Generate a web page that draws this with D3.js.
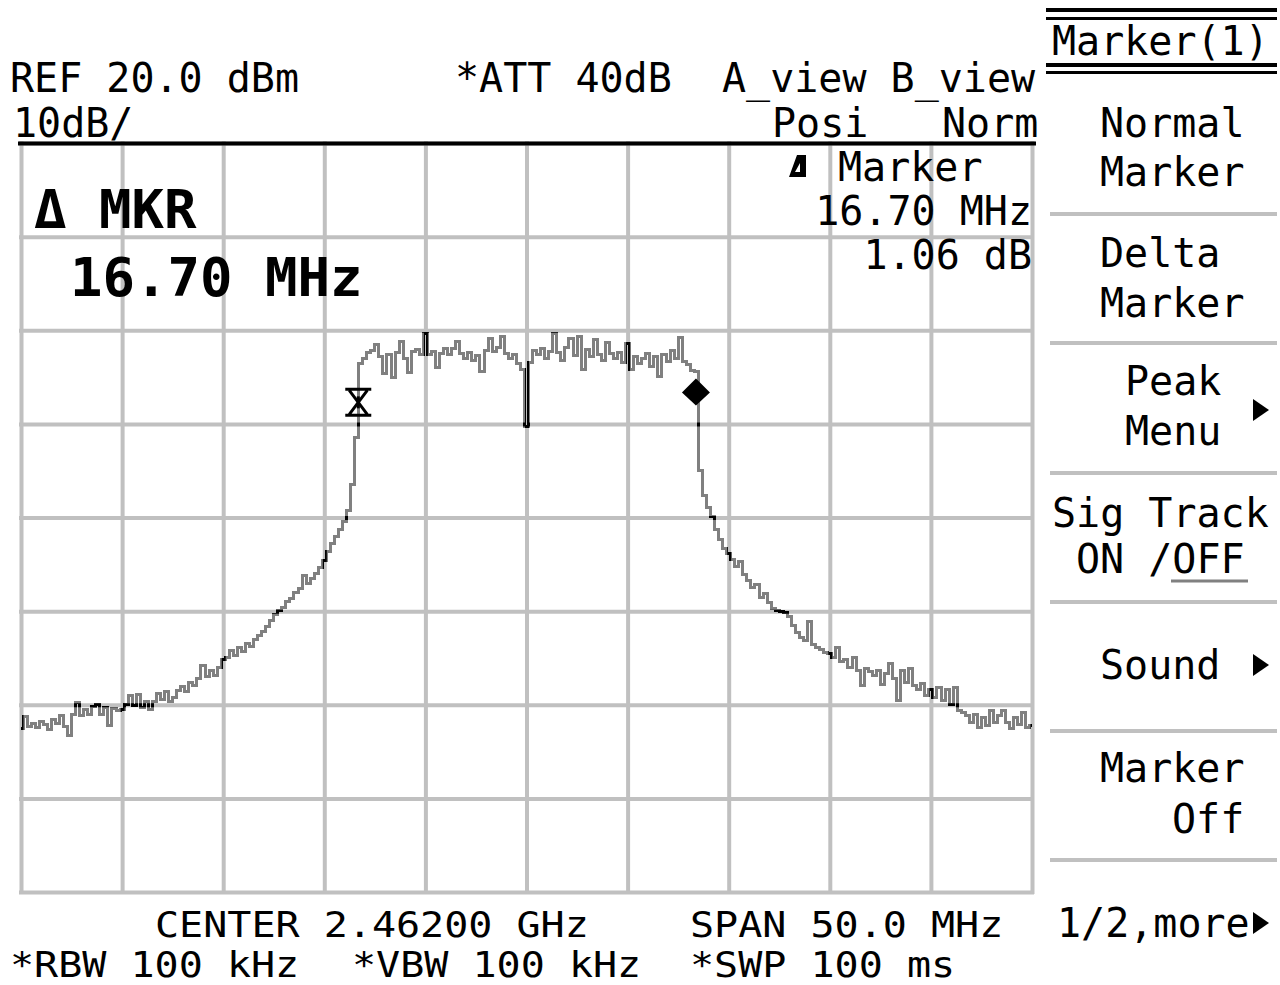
<!DOCTYPE html>
<html><head><meta charset="utf-8">
<script src="https://cdn.jsdelivr.net/npm/d3@7"></script>
<style>
html,body{margin:0;padding:0;background:#fff;}
svg{display:block;}
text{font-family:"DejaVu Sans Mono",monospace;fill:#000;}
</style></head><body>
<svg id="chart" width="1280" height="985"></svg>
<script>
// ---------------- data ----------------
const sweepStartMHz = -25;      // offset from centre frequency
const sweepStepMHz = 0.2;
const traceLevels_dBm = [
 -42.5,-41.3,-42.3,-42.0,-42.4,-41.8,-42.1,-42.6,-41.6,-42.0,
 -41.2,-42.3,-43.3,-41.0,-39.8,-41.2,-40.5,-41.0,-40.2,-40.0,
 -41.0,-40.3,-42.2,-40.4,-40.6,-40.5,-40.0,-39.0,-40.1,-38.9,
 -40.3,-39.6,-40.5,-39.7,-38.8,-39.4,-38.6,-39.6,-39.2,-38.5,
 -38.0,-38.6,-37.6,-37.9,-37.2,-35.8,-37.0,-36.3,-36.9,-36.0,
 -35.2,-35.0,-34.2,-34.7,-33.9,-34.3,-33.5,-33.8,-33.0,-32.6,
 -32.2,-31.6,-31.0,-30.4,-29.9,-29.6,-29.0,-28.6,-28.0,-27.6,
 -26.2,-27.0,-26.5,-26.0,-25.3,-24.6,-23.6,-22.8,-22.0,-21.3,
 -20.4,-19.3,-16.5,-11.5,-3.6,-3.0,-2.4,-2.2,-1.5,-2.8,
 -4.6,-2.6,-5.0,-2.4,-1.2,-3.0,-4.5,-2.3,-2.1,-2.6,
 -0.3,-2.6,-2.3,-4.0,-2.5,-2.0,-2.6,-1.9,-1.2,-2.5,
 -3.0,-2.4,-3.2,-2.7,-4.4,-2.2,-0.9,-2.3,-1.8,-0.7,
 -2.5,-3.0,-2.6,-3.6,-4.2,-10.3,-3.4,-2.2,-2.6,-2.0,
 -3.0,-2.3,-0.3,-2.4,-3.2,-1.8,-0.9,-2.7,-0.7,-4.2,
 -2.1,-2.8,-1.0,-2.6,-3.2,-1.3,-2.5,-3.0,-2.4,-3.4,
 -1.4,-4.2,-2.8,-3.6,-3.0,-2.5,-3.9,-2.8,-4.9,-2.6,
 -3.3,-2.2,-3.0,-0.8,-3.3,-3.7,-4.3,-4.4,-15.0,-17.6,
 -18.9,-19.9,-21.3,-22.4,-23.3,-23.8,-24.5,-25.2,-24.7,-26.1,
 -26.7,-27.5,-27.2,-28.5,-28.1,-29.1,-29.7,-29.9,-30.0,-30.1,
 -30.6,-31.5,-32.3,-32.8,-33.1,-31.1,-33.6,-33.9,-34.1,-34.4,
 -34.5,-35.0,-33.9,-35.4,-35.2,-36.0,-34.9,-36.3,-37.9,-36.1,
 -36.5,-36.9,-36.3,-37.8,-36.7,-35.6,-37.2,-39.5,-36.3,-37.6,
 -36.1,-37.9,-38.4,-37.7,-39.0,-38.4,-39.2,-38.2,-39.5,-38.4,
 -40.0,-38.2,-40.6,-40.8,-41.2,-41.9,-41.0,-42.4,-41.4,-42.2,
 -40.6,-41.9,-41.2,-40.6,-41.9,-42.5,-41.4,-42.1,-40.8,-42.4,
 -42.2
];
const freqGridMHz = [-25,-20,-15,-10,-5,0,5,10,15,20,25];
const levelGrid_dBm = [20,10,0,-10,-20,-30,-40,-50,-60];
const markerFreqsMHz = [-8.32, 8.38];
const markerLevels_dBm = [-7.7, -6.64];
const markerKinds = ["reference","active"];

const headerLabels = ["REF 20.0 dBm","*ATT 40dB","A_view B_view","10dB/","Posi","Norm"];
const footerLabels = ["CENTER 2.46200 GHz","SPAN 50.0 MHz","*RBW 100 kHz","*VBW 100 kHz","*SWP 100 ms"];
const deltaLabels = ["\u0394 MKR","16.70 MHz"];
const readoutLabels = ["Marker","16.70 MHz","1.06 dB"];
const menuTitle = "Marker(1)";
const menuLabels = [["Normal","Marker"],["Delta","Marker"],["Peak","Menu"],["Sig Track","ON /OFF"],["Sound"],["Marker","Off"],["1/2,more"]];
const menuHasArrow = [false,false,true,false,true,false,true];

// ---------------- layout ----------------
const svg = d3.select("#chart");
const x = d3.scaleLinear().domain([-25,25]).range([21,1032]);
const y = d3.scaleLinear().domain([-60,20]).range([892,143]);
const plotW = x(25)-x(-25), plotH = y(-60)-y(20);
const FS = 40;

// grid via axes
const gx = svg.append("g").attr("transform",`translate(0,${y(-60)})`)
  .call(d3.axisBottom(x).tickValues(freqGridMHz).tickSize(-plotH).tickFormat("").tickSizeOuter(0));
gx.select(".domain").remove();
gx.selectAll("line").attr("stroke","#c0c0c0").attr("stroke-width",4).attr("stroke-linecap","square");
const gy = svg.append("g").attr("transform",`translate(${x(-25)},0)`)
  .call(d3.axisLeft(y).tickValues(levelGrid_dBm).tickSize(-plotW).tickFormat("").tickSizeOuter(0));
gy.select(".domain").remove();
gy.selectAll("line").attr("stroke","#c0c0c0").attr("stroke-width",4).attr("stroke-linecap","square");
svg.selectAll(".tick text").remove();

// clip for black where trace crosses the grid
const clip = svg.append("defs").append("clipPath").attr("id","gridClip");
clip.selectAll("rect.v").data(freqGridMHz).join("rect").attr("class","v")
  .attr("x",d=>x(d)+0.5-2).attr("y",y(20)-2).attr("width",4).attr("height",plotH+4);
clip.selectAll("rect.h").data(levelGrid_dBm).join("rect").attr("class","h")
  .attr("x",x(-25)-2).attr("y",d=>y(d)+0.5-2).attr("width",plotW+4).attr("height",4);

// top black rule
svg.append("line").attr("x1",18).attr("x2",1036).attr("y1",143.5).attr("y2",143.5)
  .attr("stroke","#000").attr("stroke-width",4);

// trace
const traceData = traceLevels_dBm.map((v,i)=>({f: sweepStartMHz + i*sweepStepMHz, v}));
const line = d3.line().x(d=>x(d.f)).y(d=>y(d.v)).curve(d3.curveStep);
svg.append("path").datum(traceData).attr("d",line).attr("fill","none")
  .attr("stroke","#808080").attr("stroke-width",3).attr("shape-rendering","crispEdges");
svg.append("path").datum(traceData).attr("d",line).attr("fill","none")
  .attr("stroke","#000").attr("stroke-width",3).attr("shape-rendering","crispEdges")
  .attr("clip-path","url(#gridClip)");

// markers
const markers = markerFreqsMHz.map((f,i)=>({f, v: markerLevels_dBm[i], kind: markerKinds[i]}));
const mg = svg.append("g");
markers.forEach(m=>{
  const cx = x(m.f), cy = y(m.v);
  if (m.kind === "reference") {
    mg.append("path")
      .attr("d",`M${cx-13},${cy-13}H${cx+13}M${cx-13},${cy+13}H${cx+13}M${cx-9},${cy-12}L${cx+9},${cy+12}M${cx+9},${cy-12}L${cx-9},${cy+12}`)
      .attr("stroke","#000").attr("stroke-width",3).attr("fill","none");
    mg.append("line").attr("x1",cx).attr("x2",cx).attr("y1",cy-6).attr("y2",cy+6)
      .attr("stroke","#000").attr("stroke-width",3);
  } else {
    mg.append("path")
      .attr("d",`M${cx},${cy-14}L${cx+14},${cy}L${cx},${cy+13}L${cx-14},${cy}Z`)
      .attr("fill","#000");
  }
});

// header texts
const headerPos = [[10,92],[455,92],[722,92],[13,137],[772,137],[942,137]];
svg.selectAll("text.hdr").data(headerLabels).join("text").attr("class","hdr")
  .attr("x",(d,i)=>headerPos[i][0]).attr("y",(d,i)=>headerPos[i][1])
  .attr("font-size",FS).text(d=>d);

// footer
const footerPos = [[155,937],[690,937],[10,977],[352,977],[690,977]];
svg.selectAll("text.ftr").data(footerLabels).join("text").attr("class","ftr")
  .attr("x",(d,i)=>footerPos[i][0]).attr("y",(d,i)=>footerPos[i][1])
  .attr("font-size",36).attr("textLength",(d)=>d.length*24.1).attr("lengthAdjust","spacingAndGlyphs")
  .text(d=>d);

// big delta marker readout
const deltaPos = [[34,228],[70,296]];
svg.selectAll("text.dlt").data(deltaLabels).join("text").attr("class","dlt")
  .attr("x",(d,i)=>deltaPos[i][0]).attr("y",(d,i)=>deltaPos[i][1])
  .attr("font-size",54).attr("font-weight","bold").text(d=>d);

// right readout
svg.append("path")
  .attr("d","M797,155H806V177H789Z M800,163V172H795Z")
  .attr("fill","#000").attr("fill-rule","evenodd");
svg.append("text").attr("x",838).attr("y",181).attr("font-size",FS).text(readoutLabels[0]);
svg.selectAll("text.rd").data(readoutLabels.slice(1)).join("text").attr("class","rd")
  .attr("x",1032).attr("y",(d,i)=>[225,269][i]).attr("text-anchor","end")
  .attr("font-size",FS).text(d=>d);

// menu
const menu = svg.append("g");
[[10,4],[18.5,3],[65,4],[72.5,3]].forEach(([yy,w])=>{
  menu.append("line").attr("x1",1046).attr("x2",1277).attr("y1",yy).attr("y2",yy)
    .attr("stroke","#000").attr("stroke-width",w);
});
menu.append("text").attr("x",1052).attr("y",55).attr("font-size",FS).text(menuTitle);
[214,343,473,602,731,860].forEach(yy=>{
  menu.append("line").attr("x1",1050).attr("x2",1277).attr("y1",yy).attr("y2",yy)
    .attr("stroke","#c0c0c0").attr("stroke-width",4);
});
const menuPos = [
  [[1100,137],[1100,186]],
  [[1100,267],[1100,317]],
  [[1125,395],[1125,445]],
  [[1052,527],[1076,573]],
  [[1100,679]],
  [[1100,782],[1172,833]],
  [[1057,937]]
];
const arrowY = [0,0,410,0,665,0,923];
menuLabels.forEach((lines,i)=>{
  lines.forEach((t,j)=>{
    menu.append("text").attr("x",menuPos[i][j][0]).attr("y",menuPos[i][j][1])
      .attr("font-size",FS).text(t);
  });
  if (menuHasArrow[i]) {
    const ay = arrowY[i];
    menu.append("path").attr("d",`M1253,${ay-11}L1269,${ay}L1253,${ay+11}Z`).attr("fill","#000");
  }
});
// underline on OFF
menu.append("line").attr("x1",1171).attr("x2",1248).attr("y1",581).attr("y2",581)
  .attr("stroke","#808080").attr("stroke-width",3);
</script>
</body></html>
